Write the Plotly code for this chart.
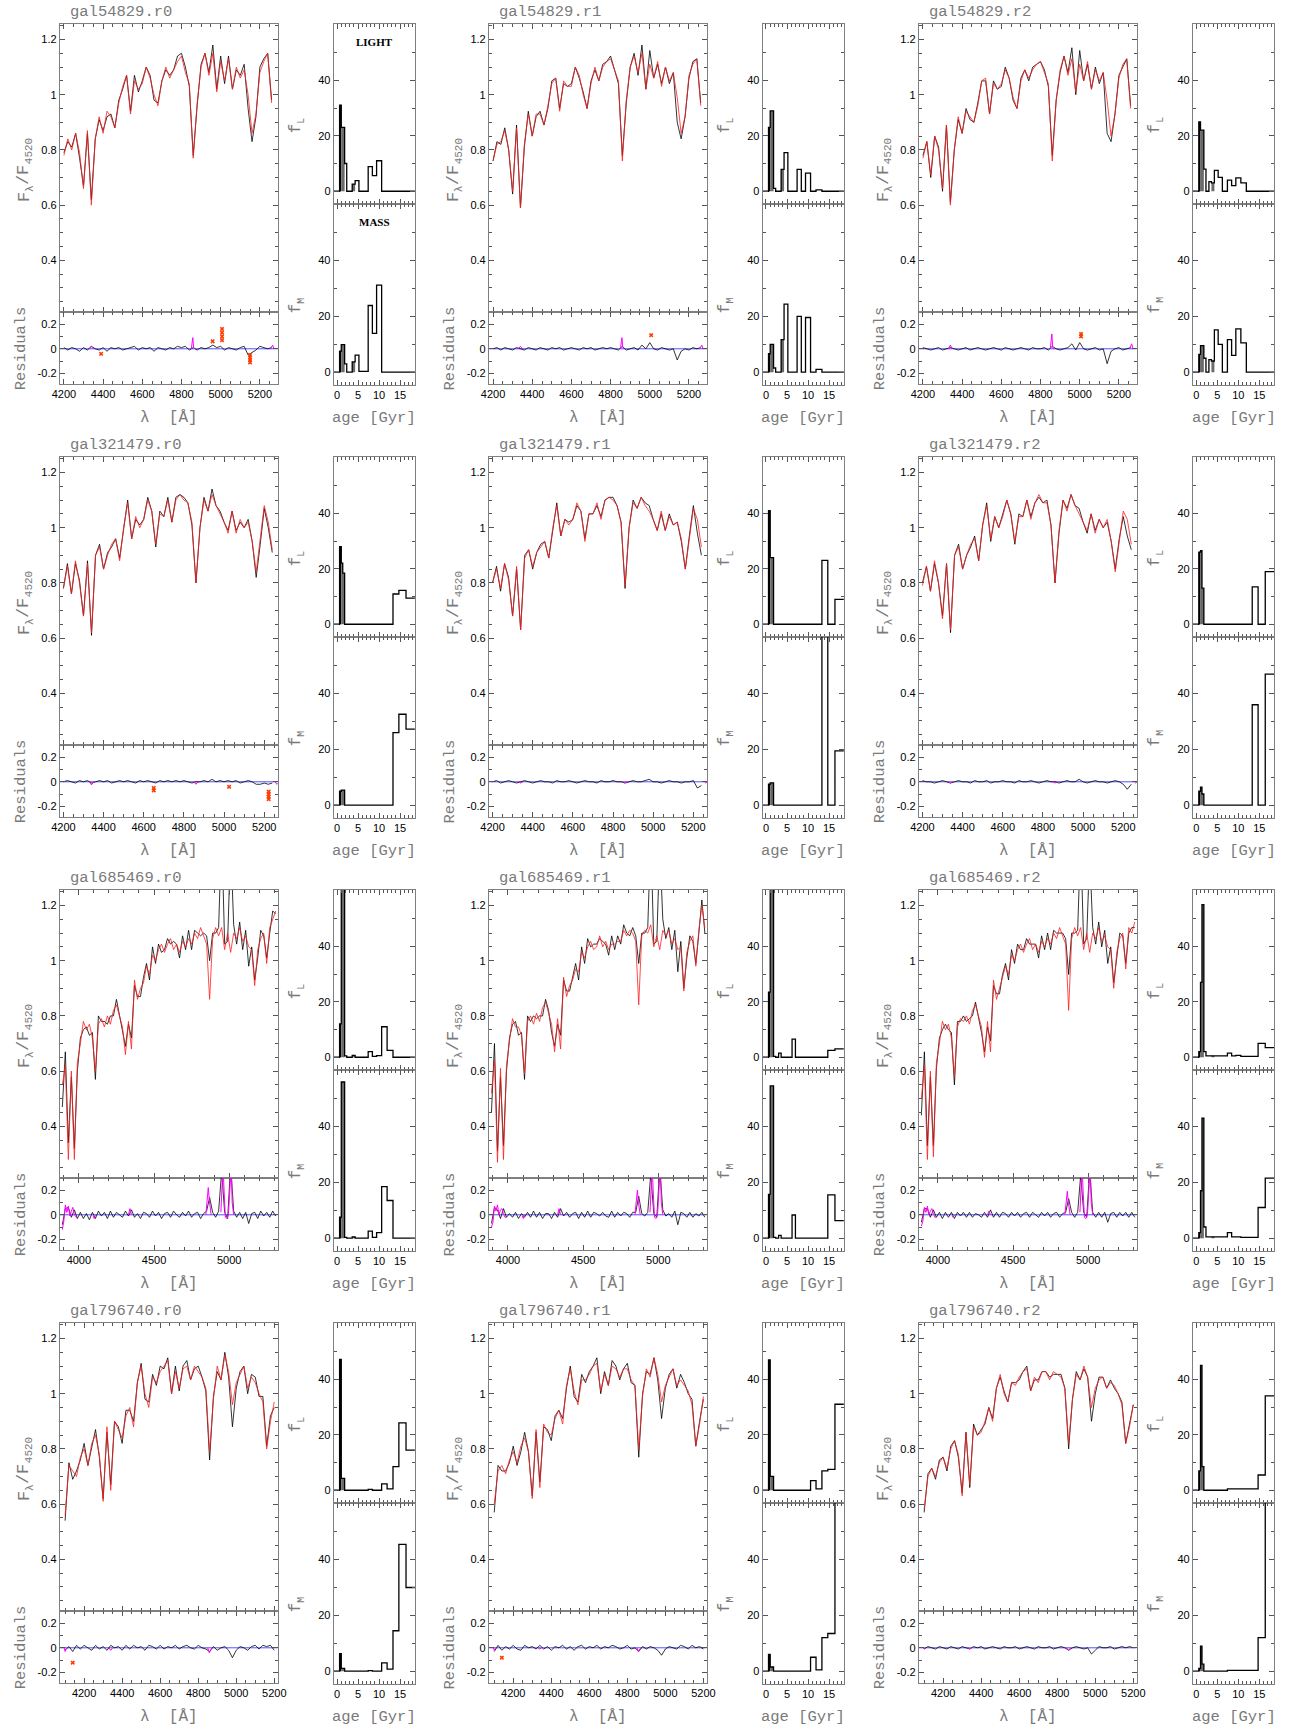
import sys
import numpy as np
import plotly.graph_objects as go

W, H = 1289, 1729

# ---------------- wavelength grids (Angstrom) ----------------
wl_54829 = np.arange(4200, 5261, 20)
wl_321479 = np.arange(4200, 5241, 20)
wl_685469 = np.arange(3890, 5311, 20)
wl_796740 = np.arange(4100, 5201, 20)

# ---------------- model spectra (red) and residuals (obs - model) ----------------
model_54829_r0 = [0.78, 0.84, 0.80, 0.86, 0.79, 0.66, 0.87, 0.60, 0.84, 0.92,
                  0.86, 0.94, 0.92, 0.88, 0.97, 1.03, 1.07, 0.93, 1.05, 1.02,
                  1.04, 1.10, 1.06, 1.00, 0.96, 1.05, 1.10, 1.06, 1.09, 1.12,
                  1.14, 1.08, 1.04, 0.77, 0.97, 1.10, 1.15, 1.07, 1.15, 1.01,
                  1.12, 1.05, 1.13, 1.02, 1.10, 1.06, 1.09, 1.00, 0.86, 0.93,
                  1.08, 1.12, 1.15, 0.97]
res_54829_r0 = [0.01, -0.01, 0.01, 0.00, -0.02, 0.01, -0.01, 0.02, 0.00, -0.01,
                0.01, -0.02, 0.01, 0.00, 0.01, -0.01, 0.00, 0.01, 0.02, -0.01,
                0.01, 0.00, 0.01, -0.02, 0.01, 0.00, -0.01, 0.01, 0.00, 0.02,
                0.01, 0.02, -0.01, 0.01, -0.01, 0.01, 0.00, 0.01, 0.03, 0.01,
                0.02, -0.01, 0.01, 0.00, -0.01, 0.01, 0.02, -0.05, -0.03, -0.01,
                0.02, 0.01, 0.00, 0.01]
model_54829_r1 = [0.76, 0.82, 0.83, 0.87, 0.80, 0.65, 0.88, 0.59, 0.82, 0.93,
                  0.85, 0.93, 0.93, 0.89, 0.96, 1.04, 1.06, 0.94, 1.05, 1.03,
                  1.03, 1.10, 1.07, 1.00, 0.95, 1.04, 1.10, 1.05, 1.10, 1.12,
                  1.13, 1.09, 1.05, 0.76, 0.98, 1.10, 1.14, 1.08, 1.15, 1.02,
                  1.11, 1.06, 1.12, 1.03, 1.10, 1.05, 1.08, 0.99, 0.86, 0.92,
                  1.07, 1.11, 1.13, 0.96]
res_54829_r1 = [0.00, 0.01, -0.01, 0.01, 0.00, -0.01, 0.01, 0.00, -0.01, 0.01,
                0.00, -0.01, 0.01, 0.00, -0.01, 0.01, 0.00, 0.01, -0.01, 0.00,
                0.01, 0.00, -0.01, 0.01, 0.00, 0.01, -0.01, 0.00, 0.01, 0.00,
                0.01, 0.00, -0.01, 0.02, -0.01, 0.00, 0.01, -0.01, 0.03, 0.00,
                0.05, 0.00, -0.01, 0.01, 0.00, -0.01, 0.00, -0.09, -0.02, 0.00,
                -0.01, 0.01, 0.00, 0.01]
model_54829_r2 = [0.77, 0.83, 0.71, 0.85, 0.80, 0.66, 0.89, 0.60, 0.80, 0.92,
                  0.86, 0.94, 0.92, 0.90, 0.96, 1.05, 1.06, 0.93, 1.04, 1.02,
                  1.04, 1.09, 1.06, 0.99, 0.95, 1.05, 1.09, 1.06, 1.09, 1.11,
                  1.12, 1.08, 1.04, 0.76, 0.98, 1.09, 1.14, 1.07, 1.13, 1.01,
                  1.11, 1.05, 1.12, 1.02, 1.09, 1.05, 1.08, 0.98, 0.85, 0.93,
                  1.06, 1.11, 1.13, 0.95]
res_54829_r2 = [0.01, 0.00, -0.01, 0.00, 0.01, -0.01, 0.00, 0.01, 0.00, -0.01,
                0.00, 0.01, -0.01, 0.00, 0.01, 0.00, -0.01, 0.00, 0.01, 0.00,
                -0.01, 0.01, 0.00, -0.01, 0.00, 0.01, 0.00, -0.01, 0.01, 0.00,
                0.00, 0.01, -0.01, 0.02, 0.00, -0.01, 0.00, 0.01, 0.04, -0.01,
                0.05, 0.00, -0.01, 0.00, 0.01, -0.01, 0.00, -0.12, -0.02, 0.00,
                0.01, -0.01, 0.00, 0.01]

model_321479_r0 = [0.78, 0.86, 0.76, 0.88, 0.80, 0.68, 0.87, 0.62, 0.90, 0.93,
                   0.85, 0.90, 0.94, 0.96, 0.88, 1.00, 1.09, 0.96, 1.04, 1.00,
                   1.03, 1.10, 1.06, 0.94, 1.05, 1.04, 1.10, 1.02, 1.10, 1.12,
                   1.10, 1.09, 1.02, 0.80, 1.00, 1.10, 1.06, 1.12, 1.08, 1.05,
                   1.02, 0.98, 1.06, 0.98, 1.03, 1.00, 1.02, 0.95, 0.84, 0.96,
                   1.08, 1.02, 0.92]
res_321479_r0 = [0.00, 0.01, 0.00, -0.01, 0.01, 0.00, 0.01, -0.01, 0.00, 0.01,
                 0.00, 0.01, -0.01, 0.00, 0.01, 0.00, 0.01, 0.00, -0.01, 0.01,
                 0.00, 0.01, 0.00, -0.01, 0.01, 0.00, 0.01, 0.00, 0.01, 0.00,
                 0.01, 0.00, -0.01, 0.00, 0.00, 0.01, 0.00, 0.02, 0.00, 0.01,
                 0.00, 0.01, 0.00, 0.01, -0.01, 0.00, 0.01, 0.00, -0.02, -0.02,
                 -0.01, -0.02, -0.01]
model_321479_r1 = [0.80, 0.85, 0.78, 0.87, 0.81, 0.68, 0.86, 0.63, 0.89, 0.92,
                   0.86, 0.91, 0.93, 0.95, 0.89, 1.00, 1.08, 0.97, 1.03, 1.01,
                   1.03, 1.09, 1.06, 0.95, 1.05, 1.05, 1.09, 1.03, 1.10, 1.11,
                   1.10, 1.08, 1.02, 0.79, 1.00, 1.09, 1.07, 1.11, 1.08, 1.06,
                   1.03, 0.99, 1.06, 0.99, 1.04, 1.01, 1.02, 0.96, 0.85, 0.97,
                   1.07, 1.03, 0.93]
res_321479_r1 = [0.00, 0.01, -0.01, 0.00, 0.01, 0.00, -0.01, 0.00, 0.01, 0.00,
                 -0.01, 0.00, 0.01, 0.00, 0.00, -0.01, 0.01, 0.00, 0.00, 0.01,
                 0.00, -0.01, 0.00, 0.01, 0.00, 0.00, -0.01, 0.01, 0.00, 0.00,
                 0.01, 0.00, 0.00, -0.01, 0.00, 0.01, 0.00, 0.00, 0.01, 0.02,
                 0.00, 0.00, -0.01, 0.00, 0.01, 0.00, 0.00, -0.01, 0.00, 0.00,
                 0.01, -0.05, -0.03]
model_321479_r2 = [0.79, 0.86, 0.77, 0.88, 0.80, 0.67, 0.87, 0.63, 0.90, 0.93,
                   0.85, 0.90, 0.94, 0.96, 0.88, 1.01, 1.08, 0.96, 1.04, 1.00,
                   1.04, 1.10, 1.05, 0.95, 1.04, 1.04, 1.10, 1.03, 1.09, 1.12,
                   1.09, 1.09, 1.01, 0.80, 0.99, 1.10, 1.06, 1.12, 1.08, 1.05,
                   1.02, 0.99, 1.05, 0.98, 1.03, 1.00, 1.03, 0.95, 0.84, 0.96,
                   1.06, 1.03, 0.94]
res_321479_r2 = [0.01, 0.00, 0.00, -0.01, 0.00, 0.01, 0.00, -0.01, 0.00, 0.01,
                 0.00, 0.00, -0.01, 0.01, 0.00, 0.00, 0.01, -0.01, 0.00, 0.00,
                 0.01, 0.00, 0.00, -0.01, 0.01, 0.00, 0.00, 0.01, 0.00, -0.01,
                 0.00, 0.01, 0.00, 0.00, -0.01, 0.00, 0.01, 0.00, 0.00, 0.02,
                 0.00, -0.01, 0.00, 0.01, 0.00, 0.00, -0.01, 0.00, 0.01, 0.00,
                 -0.02, -0.06, -0.02]

model_685469_r0 = [0.55, 0.62, 0.28, 0.60, 0.28, 0.63, 0.70, 0.78, 0.75, 0.77,
                   0.72, 0.60, 0.77, 0.79, 0.76, 0.80, 0.77, 0.82, 0.84, 0.80,
                   0.76, 0.66, 0.78, 0.68, 0.93, 0.86, 0.90, 0.92, 0.98, 0.95,
                   1.02, 1.00, 1.04, 1.06, 1.03, 1.06, 1.08, 1.04, 1.06, 1.03,
                   1.07, 1.05, 1.08, 1.06, 1.10, 1.08, 1.12, 1.09, 1.06, 0.86,
                   1.08, 1.12, 1.09, 1.12, 1.04, 1.10, 1.03, 1.10, 1.08, 1.12,
                   1.07, 1.09, 1.05, 1.04, 0.91, 1.04, 1.08, 1.10, 0.99, 1.12,
                   1.15, 1.18]
res_685469_r0 = [-0.08, 0.05, 0.06, -0.02, 0.04, -0.03, 0.02, -0.03, 0.01, -0.04,
                 0.02, -0.03, 0.03, -0.01, 0.02, -0.03, 0.03, -0.02, 0.02, 0.00,
                 -0.02, 0.03, -0.01, 0.04, -0.02, 0.01, -0.03, 0.02, 0.01, -0.02,
                 0.03, -0.01, 0.02, -0.03, 0.01, 0.02, -0.02, 0.03, 0.00, -0.02,
                 0.02, -0.01, 0.03, -0.02, 0.01, 0.02, -0.03, 0.01, 0.03, 0.14,
                 0.02, -0.02, 0.03, 0.35, 0.02, -0.03, 0.40, 0.03, -0.02, 0.02,
                 -0.03, 0.02, -0.07, 0.01, 0.02, -0.03, 0.03, -0.01, 0.02, -0.02,
                 0.03, -0.01]
model_685469_r1 = [0.52, 0.64, 0.27, 0.61, 0.28, 0.62, 0.71, 0.79, 0.76, 0.76,
                   0.73, 0.59, 0.78, 0.80, 0.77, 0.81, 0.78, 0.83, 0.85, 0.81,
                   0.77, 0.67, 0.79, 0.68, 0.94, 0.87, 0.91, 0.93, 0.97, 0.96,
                   1.03, 1.01, 1.05, 1.07, 1.04, 1.05, 1.09, 1.05, 1.07, 1.04,
                   1.06, 1.06, 1.07, 1.07, 1.11, 1.09, 1.11, 1.10, 1.07, 0.84,
                   1.09, 1.11, 1.10, 1.13, 1.05, 1.09, 1.04, 1.11, 1.09, 1.11,
                   1.06, 1.08, 1.04, 1.05, 0.89, 1.03, 1.07, 1.09, 0.98, 1.11,
                   1.20, 1.12]
res_685469_r1 = [-0.07, 0.06, 0.04, -0.03, 0.05, -0.02, 0.01, -0.02, 0.02, -0.03,
                 0.01, -0.02, 0.02, -0.02, 0.03, -0.02, 0.02, -0.03, 0.01, 0.01,
                 -0.03, 0.02, -0.02, 0.05, -0.01, 0.02, -0.02, 0.01, 0.02, -0.03,
                 0.02, -0.02, 0.03, -0.02, 0.02, 0.01, -0.01, 0.02, -0.01, -0.02,
                 0.03, -0.02, 0.02, -0.01, 0.02, 0.01, -0.02, 0.02, 0.02, 0.15,
                 0.01, -0.01, 0.02, 0.33, 0.01, -0.02, 0.38, 0.04, -0.01, 0.01,
                 -0.02, 0.03, -0.08, 0.02, 0.01, -0.02, 0.02, -0.02, 0.01, -0.01,
                 0.02, -0.02]
model_685469_r2 = [0.50, 0.62, 0.28, 0.60, 0.29, 0.63, 0.70, 0.78, 0.75, 0.77,
                   0.72, 0.58, 0.76, 0.79, 0.78, 0.80, 0.77, 0.82, 0.84, 0.80,
                   0.76, 0.65, 0.78, 0.67, 0.93, 0.86, 0.90, 0.93, 0.98, 0.95,
                   1.02, 1.00, 1.04, 1.06, 1.03, 1.06, 1.08, 1.04, 1.06, 1.03,
                   1.07, 1.05, 1.08, 1.06, 1.10, 1.08, 1.12, 1.09, 1.06, 0.82,
                   1.08, 1.12, 1.09, 1.12, 1.04, 1.10, 1.03, 1.10, 1.08, 1.12,
                   1.07, 1.09, 1.05, 1.04, 0.90, 1.03, 1.08, 1.10, 0.97, 1.12,
                   1.10, 1.14]
res_685469_r2 = [-0.06, 0.05, 0.05, -0.02, 0.04, -0.02, 0.02, -0.03, 0.02, -0.02,
                 0.02, -0.03, 0.02, -0.01, 0.02, -0.02, 0.02, -0.02, 0.01, 0.00,
                 -0.02, 0.02, -0.02, 0.04, -0.02, 0.02, -0.02, 0.02, 0.01, -0.02,
                 0.02, -0.01, 0.02, -0.02, 0.01, 0.02, -0.02, 0.02, 0.00, -0.02,
                 0.02, -0.01, 0.02, -0.02, 0.01, 0.02, -0.02, 0.01, 0.02, 0.13,
                 0.02, -0.02, 0.02, 0.32, 0.02, -0.02, 0.36, 0.02, -0.02, 0.02,
                 -0.02, 0.02, -0.06, 0.01, 0.02, -0.02, 0.02, -0.01, 0.02, -0.02,
                 0.02, -0.02]

model_796740_r0 = [0.56, 0.74, 0.72, 0.70, 0.77, 0.80, 0.74, 0.82, 0.85, 0.78,
                   0.61, 0.88, 0.65, 0.90, 0.87, 0.84, 0.92, 0.95, 0.88, 1.04,
                   1.10, 1.00, 0.95, 1.06, 1.04, 1.08, 1.10, 1.12, 1.00, 1.08,
                   1.02, 1.09, 1.10, 1.05, 1.10, 1.08, 1.06, 1.02, 0.79, 0.98,
                   1.10, 1.05, 1.14, 1.08, 0.96, 1.04, 1.07, 1.10, 1.02, 1.06,
                   1.04, 1.00, 0.97, 0.80, 0.90, 0.97]
res_796740_r0 = [-0.02, 0.01, -0.03, 0.02, -0.01, 0.02, 0.00, -0.02, 0.02, -0.01,
                 0.01, -0.02, 0.02, 0.00, 0.01, -0.02, 0.02, -0.01, 0.02, 0.00,
                 0.01, -0.02, 0.02, 0.01, -0.01, 0.02, -0.01, 0.01, 0.00, 0.02,
                 -0.01, 0.01, 0.02, 0.00, -0.01, 0.02, 0.00, -0.01, -0.03, 0.01,
                 -0.02, 0.00, 0.01, -0.02, -0.08, -0.02, 0.01, 0.00, -0.02, 0.01,
                 0.02, -0.01, 0.02, 0.01, 0.02, -0.02]
model_796740_r1 = [0.60, 0.72, 0.74, 0.71, 0.76, 0.79, 0.75, 0.81, 0.84, 0.79,
                   0.62, 0.87, 0.66, 0.89, 0.86, 0.85, 0.91, 0.94, 0.89, 1.03,
                   1.09, 1.01, 0.96, 1.05, 1.05, 1.07, 1.10, 1.11, 1.01, 1.07,
                   1.03, 1.10, 1.09, 1.06, 1.09, 1.09, 1.05, 1.03, 0.80, 0.99,
                   1.09, 1.06, 1.13, 1.07, 0.97, 1.03, 1.06, 1.09, 1.03, 1.05,
                   1.03, 1.01, 0.96, 0.81, 0.89, 0.99]
res_796740_r1 = [-0.03, 0.02, -0.02, 0.01, -0.01, 0.02, -0.01, -0.02, 0.02, 0.00,
                 0.01, -0.01, 0.02, -0.01, 0.01, -0.02, 0.01, 0.00, 0.02, -0.01,
                 0.01, -0.02, 0.01, 0.02, -0.01, 0.01, 0.00, 0.02, -0.01, 0.01,
                 0.00, 0.02, 0.01, -0.01, 0.00, 0.02, -0.01, 0.00, -0.03, 0.01,
                 -0.01, 0.01, 0.00, -0.02, -0.06, -0.01, 0.01, 0.00, -0.01, 0.02,
                 0.01, -0.01, 0.02, 0.00, 0.01, -0.01]
model_796740_r2 = [0.58, 0.70, 0.73, 0.70, 0.75, 0.77, 0.73, 0.80, 0.83, 0.78,
                   0.63, 0.86, 0.67, 0.88, 0.85, 0.86, 0.90, 0.95, 0.90, 1.02,
                   1.07, 1.00, 0.97, 1.04, 1.03, 1.06, 1.08, 1.09, 1.01, 1.06,
                   1.04, 1.08, 1.08, 1.05, 1.08, 1.07, 1.06, 1.02, 0.82, 0.98,
                   1.07, 1.05, 1.10, 1.06, 0.95, 1.02, 1.05, 1.06, 1.02, 1.04,
                   1.03, 1.00, 0.96, 0.82, 0.88, 0.96]
res_796740_r2 = [-0.01, 0.01, 0.00, -0.01, 0.01, 0.00, -0.01, 0.01, 0.00, -0.01,
                 0.01, 0.00, -0.01, 0.01, 0.00, 0.01, -0.01, 0.00, 0.01, 0.00,
                 -0.01, 0.01, 0.00, 0.00, 0.01, -0.01, 0.00, 0.01, 0.00, -0.01,
                 0.01, 0.00, 0.00, 0.01, -0.01, 0.00, 0.01, 0.00, -0.02, 0.00,
                 0.01, 0.00, -0.01, 0.00, -0.05, -0.02, 0.01, 0.00, 0.00, 0.01,
                 -0.01, 0.00, 0.01, 0.00, 0.01, 0.00]

# ---------------- masked (magenta) residual windows ----------------
mask_wl_54829 = [4330, 4340, 4350, None, 4850, 4858, 4862, 4870, None, 5255, 5265, 5272]
mask_res_54829_r0 = [0, 0.02, 0, None, 0, 0.09, 0.01, 0, None, 0, 0.03, 0]
mask_res_54829_r1 = [0, 0.02, 0, None, 0, 0.09, 0.01, 0, None, 0, 0.03, 0]
mask_res_54829_r2 = [0, 0.03, 0, None, 0, 0.12, 0.01, 0, None, 0, 0.04, 0]
mask_wl_321479 = [4330, 4340, 4350, None, 4850, 4860, 4870, None, 5255, 5262, 5270]
mask_res_321479_r0 = [0, -0.025, 0, None, 0, -0.02, 0, None, 0, -0.02, -0.01]
mask_res_321479_r1 = [0, -0.01, 0, None, 0, -0.01, 0, None, 0, -0.01, 0]
mask_res_321479_r2 = [0, -0.01, 0, None, 0, -0.01, 0, None, 0, -0.01, 0]
mask_wl_685469 = [3890, 3900, 3910, 3920, 3930, 3940, 3950, 3960, 3970, 3980, 3990, None,
                  4095, 4102, 4110, None, 4330, 4340, 4350, None,
                  4845, 4855, 4861, 4868, 4880, None,
                  4945, 4952, 4959, 4966, 4975, 4985, 4995, 5000, 5007, 5014, 5020, 5030]
mask_res_685469_r0 = [-0.12, -0.05, 0.08, 0.02, 0.07, -0.01, 0.03, 0.06, 0.00, -0.02, -0.03, None,
                      -0.01, -0.03, 0.00, None, 0.00, 0.05, 0.00, None,
                      0.00, 0.15, 0.22, 0.12, 0.00, None,
                      0.02, 0.20, 0.40, 0.20, -0.02, -0.03, 0.00, 0.10, 0.40, 0.40, 0.10, 0.00]
mask_res_685469_r1 = [-0.10, -0.06, 0.07, 0.03, 0.08, 0.00, 0.04, 0.05, 0.01, -0.02, -0.02, None,
                      -0.01, -0.03, 0.00, None, 0.00, 0.05, 0.00, None,
                      0.00, 0.14, 0.20, 0.10, 0.00, None,
                      0.02, 0.20, 0.40, 0.20, -0.02, -0.03, 0.00, 0.10, 0.40, 0.40, 0.10, 0.00]
mask_res_685469_r2 = [-0.09, -0.05, 0.06, 0.02, 0.07, 0.00, 0.03, 0.05, 0.01, -0.02, -0.02, None,
                      -0.01, -0.02, 0.00, None, 0.00, 0.03, 0.00, None,
                      0.00, 0.13, 0.19, 0.10, 0.00, None,
                      0.02, 0.20, 0.40, 0.20, -0.02, -0.03, 0.00, 0.10, 0.40, 0.40, 0.10, 0.00]
mask_wl_796740 = [4095, 4100, 4108, None, 4330, 4340, 4350, None, 4850, 4858, 4865, 4872]
mask_res_796740_r0 = [0, -0.03, 0, None, 0, -0.02, 0, None, 0, -0.04, -0.02, 0]
mask_res_796740_r1 = [0, -0.02, 0, None, 0, -0.01, 0, None, 0, -0.03, -0.01, 0]
mask_res_796740_r2 = [0, -0.01, 0, None, 0, -0.01, 0, None, 0, -0.02, -0.01, 0]

# ---------------- flagged (clipped) pixels ----------------
flag_wl_54829_r0 = [4390, 4959, 5007, 5007, 5007, 5007, 5150, 5150, 5150, 5150]
flag_res_54829_r0 = [-0.04, 0.06, 0.07, 0.10, 0.13, 0.16, -0.05, -0.07, -0.09, -0.11]
flag_wl_54829_r1 = [5007]
flag_res_54829_r1 = [0.11]
flag_wl_54829_r2 = [5007, 5007]
flag_res_54829_r2 = [0.10, 0.12]
flag_wl_321479_r0 = [4650, 4650, 5025, 5222, 5222, 5222, 5222]
flag_res_321479_r0 = [-0.05, -0.07, -0.04, -0.08, -0.10, -0.12, -0.14]
flag_wl_796740_r0 = [4140]
flag_res_796740_r0 = [-0.12]
flag_wl_796740_r1 = [4140]
flag_res_796740_r1 = [-0.08]

# ---------------- age-distribution histograms (per cent) ----------------
age_edges = [-1.0, 0.6, 1.0, 1.35, 1.8, 2.3, 3.0, 3.6, 4.3, 5.2, 6.2,
             7.0, 7.4, 8.4, 9.4, 10.6, 11.9, 13.3, 14.7, 16.4, 19.0]
age_fill = [None, 'black', '#6a6a6a', '#6a6a6a', None, None, None, '#6a6a6a', None, None,
            None, None, None, None, None, None, None, None, None, None]

fL_54829_r0 = [0, 31, 23, 23, 10, 0, 0, 2.6, 3.8, 0, 0, 0, 8.9, 5.6, 11, 0, 0, 0, 0, 0]
fM_54829_r0 = [0, 7.5, 9.9, 9.9, 3, 0, 0, 3.7, 6.1, 0.3, 0.3, 0.3, 23.9, 13.9, 31.2, 0, 0, 0, 0, 0]
fL_54829_r1 = [0, 23, 29, 29, 1, 0, 0, 7.9, 13.9, 0, 0, 0, 7.9, 0, 6.5, 0, 0.5, 0, 0, 0]
fM_54829_r1 = [0, 6.6, 10, 10, 1.5, 0, 0, 11.7, 24.4, 0, 0, 0, 20, 0, 19.6, 0, 1, 0, 0, 0]
fL_54829_r2 = [0, 25, 22, 22, 8, 0, 3.5, 3, 7.5, 5, 0, 0, 4, 2, 4.8, 3, 0, 0, 0, 0]
fM_54829_r2 = [0, 6.4, 9.5, 9.5, 5, 0, 4.5, 4, 15.2, 10, 0, 0, 11.7, 6, 15.5, 10.5, 0, 0, 0, 0]
fL_321479_r0 = [0, 28, 22, 18.4, 0, 0, 0, 0, 0, 0, 0, 0, 0, 0, 0, 0, 0, 10.9, 12.2, 9.4]
fM_321479_r0 = [0, 5, 5.4, 5.4, 0, 0, 0, 0, 0, 0, 0, 0, 0, 0, 0, 0, 0, 26, 32.6, 27.3]
fL_321479_r1 = [0, 41, 24, 24, 0, 0, 0, 0, 0, 0, 0, 0, 0, 0, 0, 0, 0, 23, 0, 9]
fM_321479_r1 = [0, 7.5, 8, 8, 0, 0, 0, 0, 0, 0, 0, 0, 0, 0, 0, 0, 0, 65, 0, 19.5]
fL_321479_r2 = [0, 26, 26.5, 13, 0, 0, 0, 0, 0, 0, 0, 0, 0, 0, 0, 0, 0, 13.5, 0, 19]
fM_321479_r2 = [0, 5, 6.5, 4, 0, 0, 0, 0, 0, 0, 0, 0, 0, 0, 0, 0, 0, 36, 0, 47]
fL_685469_r0 = [0, 12, 65, 65, 0.5, 0, 0, 0.7, 0, 0, 0, 0, 2, 0.3, 0.6, 11, 2.5, 0, 0, 0]
fM_685469_r0 = [0, 7.5, 56, 56, 0.3, 0, 0, 0.5, 0, 0, 0, 0, 2.5, 0.3, 2, 18.5, 13.5, 0, 0, 0]
fL_685469_r1 = [0, 23.5, 65, 65, 0.3, 0, 1.5, 0, 0, 0, 6.5, 0, 0, 0, 0, 0, 0, 0, 2.5, 3]
fM_685469_r1 = [0, 15.7, 54.6, 54.6, 0.3, 0, 1, 0, 0, 0, 8.3, 0, 0, 0, 0, 0, 0, 0, 15.5, 6.3]
fL_685469_r2 = [0, 2, 27, 55, 2, 0.5, 0.5, 0.5, 0.5, 0.5, 0.5, 0.5, 1.5, 0.5, 0.7, 0.3, 0.3, 0.3, 5, 3.5]
fM_685469_r2 = [0, 2, 17, 43, 4, 0.5, 0.5, 0.5, 0.5, 0.5, 0.5, 0.5, 2, 0.5, 0.5, 0.3, 0.3, 0.3, 11, 21.5]
fL_796740_r0 = [0, 47.2, 4.3, 4.3, 0, 0, 0, 0, 0, 0, 0, 0, 0.3, 0, 0, 2.3, 0.5, 8.5, 24.3, 14.5]
fM_796740_r0 = [0, 6.3, 1, 1, 0, 0, 0, 0, 0, 0, 0, 0, 0.2, 0, 0, 3, 0.7, 14.5, 45.5, 30]
fL_796740_r1 = [0, 47, 5, 5, 0, 0, 0, 0, 0, 0, 0, 0, 0, 0, 0, 3.5, 0.5, 7, 7.5, 31]
fM_796740_r1 = [0, 6, 1.5, 1.5, 0, 0, 0, 0, 0, 0, 0, 0, 0, 0, 0, 5, 0.5, 12, 13.5, 65]
fL_796740_r2 = [0, 7, 45, 8.5, 0, 0, 0, 0, 0, 0, 0, 0, 0.5, 0.5, 0.5, 0.5, 0.5, 0.5, 5.5, 34]
fM_796740_r2 = [0, 1, 9, 2.5, 0, 0, 0, 0, 0, 0, 0, 0, 0.3, 0.3, 0.3, 0.3, 0.3, 0.3, 12, 65]

# ---------------- tick labels ----------------
spec_ytick_vals = [0.4, 0.6, 0.8, 1.0, 1.2]
spec_ytick_text = ['0.4', '0.6', '0.8', '1', '1.2']
res_ytick_vals = [-0.2, 0.0, 0.2]
res_ytick_text = ['-0.2', '0', '0.2']
hist_ytick_vals = [0, 20, 40]
hist_xtick_vals = [0, 5, 10, 15]

# ---------------- table of galaxies / runs ----------------
row_info = [
    dict(gal='gal54829', wl=wl_54829, xr=[4179, 5291], major=200, minor=50, mwl=mask_wl_54829),
    dict(gal='gal321479', wl=wl_321479, xr=[4182, 5267], major=200, minor=50, mwl=mask_wl_321479),
    dict(gal='gal685469', wl=wl_685469, xr=[3873, 5323], major=500, minor=100, mwl=mask_wl_685469),
    dict(gal='gal796740', wl=wl_796740, xr=[4072, 5218], major=200, minor=50, mwl=mask_wl_796740),
]
G = globals()

# ---------------- geometry (pixels) ----------------
spec_left = [51.5, 486.7, 922.7]
spec_w = 221.0
hist_left = [329.3, 764.3, 1200.7]
hist_w = 82.3
row_top = [24.0, 457.0, 890.0, 1323.0]
spec_h, res_h = 288.0, 72.0
hL_h, hM_h = 180.0, 181.0

TICKFONT = dict(family='Liberation Sans, Arial, sans-serif', size=11, color='black')
MONO = 'Liberation Mono, Courier New, monospace'
GRAY = '#7a7a7a'
LABFONT = dict(family=MONO, size=15, color=GRAY)
SUBFONT = dict(family=MONO, size=10, color=GRAY)
AXCOL = '#7f7f7f'


def xd(l, w):
    return [l / W, (l + w) / W]


def yd(t, h):
    return [1 - (t + h) / H, 1 - t / H]


def ax(rng, dom, vals, text, minor_dtick, labels):
    d = dict(domain=dom, range=rng, showline=True, linecolor=AXCOL, linewidth=1,
             mirror='allticks', ticks='inside', ticklen=5, tickcolor='#555', tickwidth=1,
             showgrid=False, zeroline=False, showticklabels=labels, tickfont=TICKFONT,
             tickmode='array', tickvals=vals, ticktext=text, fixedrange=True)
    d['minor'] = dict(tick0=0, dtick=minor_dtick, ticks='inside', ticklen=3, tickcolor='#555',
                      showgrid=False)
    return d


fig = go.Figure()
layout = dict(width=W, height=H, margin=dict(l=0, r=0, t=0, b=0), showlegend=False,
              plot_bgcolor='white', paper_bgcolor='white')
annotations = []
counter = [0]


def new_axes(xdef, ydef):
    counter[0] += 1
    n = counter[0]
    sx = '' if n == 1 else str(n)
    xdef['anchor'] = 'y' + sx
    ydef['anchor'] = 'x' + sx
    layout['xaxis' + sx] = xdef
    layout['yaxis' + sx] = ydef
    return 'x' + sx, 'y' + sx


def ann(x, y, text, font, angle=0, xanchor='center', yanchor='middle'):
    annotations.append(dict(x=x / W, y=1 - y / H, xref='paper', yref='paper', text=text,
                            showarrow=False, font=font, textangle=angle,
                            xanchor=xanchor, yanchor=yanchor))


def vlabel(xc, yc, pieces, main=15, sub=10):
    """Vertical (rotated) label built from (text, is_subscript) pieces, reading upward."""
    mf = dict(LABFONT, size=main)
    sf = dict(SUBFONT, size=sub)
    widths = [len(t) * 0.6 * (sub if s else main) for t, s in pieces]
    total = sum(widths)
    pos = yc + total / 2.0
    for (t, s), w in zip(pieces, widths):
        cy = pos - w / 2.0
        if s:
            ann(xc + 0.33 * main, cy, t, sf, angle=-90)
        else:
            ann(xc, cy, t, mf, angle=-90)
        pos -= w


def fit(a, b, name):
    n = min(len(a), len(b))
    if len(a) != len(b):
        print('length mismatch', name, len(a), len(b), file=sys.stderr)
    return list(a)[:n], list(b)[:n]


for i, ri in enumerate(row_info):
    top = row_top[i]
    wl = list(ri['wl'])
    xt_vals = list(range(int(np.ceil(ri['xr'][0] / ri['major']) * ri['major']),
                         int(ri['xr'][1]) + 1, ri['major']))
    xt_text = [str(v) for v in xt_vals]
    for j in range(3):
        run = 'r%d' % j
        key = ri['gal'][3:] + '_' + run
        model = G['model_' + key]
        res = G['res_' + key]
        x1, m1 = fit(wl, model, 'model ' + key)
        x1, r1 = fit(x1, res, 'res ' + key)
        m1 = m1[:len(x1)]
        obs = [a + b for a, b in zip(m1, r1)]
        sl = spec_left[j]

        # --- spectrum panel ---
        xa, ya = new_axes(ax(ri['xr'], xd(sl, spec_w), xt_vals, xt_text, ri['minor'], False),
                          ax([0.213, 1.256], yd(top, spec_h), spec_ytick_vals, spec_ytick_text, 0.05, True))
        fig.add_trace(go.Scatter(x=x1, y=obs, mode='lines', line=dict(color='black', width=0.8),
                                 xaxis=xa, yaxis=ya, hoverinfo='skip'))
        fig.add_trace(go.Scatter(x=x1, y=m1, mode='lines', line=dict(color='rgb(255,30,30)', width=0.8),
                                 xaxis=xa, yaxis=ya, hoverinfo='skip'))

        # --- residual panel ---
        xb, yb = new_axes(ax(ri['xr'], xd(sl, spec_w), xt_vals, xt_text, ri['minor'], True),
                          ax([-0.284, 0.297], yd(top + spec_h, res_h), res_ytick_vals, res_ytick_text, 0.1, True))
        fig.add_trace(go.Scatter(x=[ri['xr'][0], ri['xr'][1]], y=[0, 0], mode='lines',
                                 line=dict(color='rgb(80,80,255)', width=1), xaxis=xb, yaxis=yb, hoverinfo='skip'))
        fig.add_trace(go.Scatter(x=x1, y=r1, mode='lines', line=dict(color='black', width=0.8),
                                 xaxis=xb, yaxis=yb, hoverinfo='skip'))
        mres = G['mask_res_' + key]
        fig.add_trace(go.Scatter(x=ri['mwl'], y=mres, mode='lines', line=dict(color='magenta', width=1),
                                 connectgaps=False, xaxis=xb, yaxis=yb, hoverinfo='skip'))
        if ('flag_wl_' + key) in G:
            fig.add_trace(go.Scatter(x=G['flag_wl_' + key], y=G['flag_res_' + key], mode='markers',
                                     marker=dict(symbol='x', size=4, color='rgb(255,60,0)'),
                                     xaxis=xb, yaxis=yb, hoverinfo='skip'))

        # --- histograms ---
        hl = hist_left[j]
        for k, (pref, ht, hh) in enumerate([('fL_', top, hL_h), ('fM_', top + hL_h, hM_h)]):
            vals = G[pref + key]
            xh, yh = new_axes(ax([-0.8, 18.5], xd(hl, hist_w), hist_xtick_vals,
                                 [str(v) for v in hist_xtick_vals], 1, k == 1),
                              ax([-4.6, 60.3], yd(ht, hh), hist_ytick_vals,
                                 [str(v) for v in hist_ytick_vals], 10, True))
            for col in ['black', '#6a6a6a']:
                px, py = [], []
                for b, v in enumerate(vals):
                    if age_fill[b] == col and v > 0:
                        l, r = age_edges[b], age_edges[b + 1]
                        px += [l, l, r, r, l, None]
                        py += [0, v, v, 0, 0, None]
                if px:
                    fig.add_trace(go.Scatter(x=px, y=py, mode='lines', fill='toself', fillcolor=col,
                                             line=dict(width=0, color=col), xaxis=xh, yaxis=yh,
                                             hoverinfo='skip'))
            fig.add_trace(go.Scatter(x=age_edges, y=list(vals) + [vals[-1]], mode='lines',
                                     line=dict(color='black', width=1.3, shape='hv'),
                                     xaxis=xh, yaxis=yh, hoverinfo='skip'))

        # --- text labels ---
        ann(sl + 8, top - 12, ri['gal'] + '.' + run, dict(LABFONT, size=15.5), xanchor='left')
        vlabel(sl - 36, top + 146, [('F', False), ('λ', True), ('/F', False), ('4520', True)],
               main=17, sub=11)
        ann(sl - 39, top + 324, 'Residuals', dict(LABFONT, size=15.5), angle=-90)
        ann(sl + spec_w / 2, top + 394, 'λ  [Å]', dict(LABFONT, size=16))
        vlabel(hl - 38, top + 101, [('f', False), ('L', True)], main=16, sub=10)
        vlabel(hl - 38, top + 281, [('f', False), ('M', True)], main=16, sub=10)
        ann(hl + hist_w / 2, top + 394, 'age [Gyr]', dict(LABFONT, size=15.5))
        if i == 0 and j == 0:
            bold = dict(family='Liberation Serif, Times New Roman, serif', size=11, color='black')
            ann(hl + hist_w / 2, top + 18, '<b>LIGHT</b>', bold)
            ann(hl + hist_w / 2, top + 198, '<b>MASS</b>', bold)

layout['annotations'] = annotations
fig.update_layout(**layout)
fig.write_html('out.html')
